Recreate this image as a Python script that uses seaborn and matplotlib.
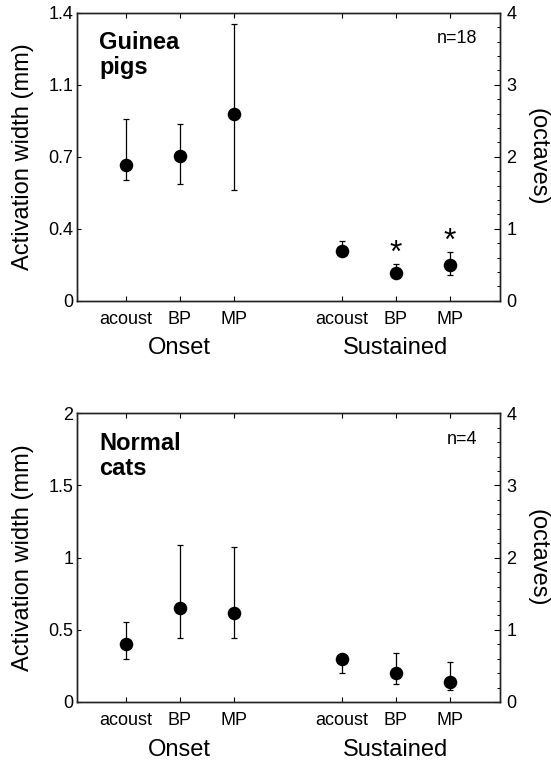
import matplotlib
matplotlib.use("Agg")
import matplotlib.pyplot as plt
import matplotlib.transforms as mtransforms
from matplotlib.ticker import MultipleLocator, FixedLocator, FixedFormatter
import numpy as np
import pandas as pd
import seaborn as sns

# ---- data -------------------------------------------------------------
conditions = ["acoust", "BP", "MP", "acoust", "BP", "MP"]
phases = ["Onset", "Onset", "Onset", "Sustained", "Sustained", "Sustained"]

# Guinea pigs (n=18): activation width in mm, with lower / upper error limits
gp_width = [0.661, 0.702, 0.908, 0.244, 0.135, 0.175]
gp_lower = [0.588, 0.568, 0.539, 0.215, 0.110, 0.123]
gp_upper = [0.885, 0.861, 1.345, 0.292, 0.179, 0.237]
gp_signif = [False, False, False, False, True, True]
gp_ytick_labels = ["0", "0.4", "0.7", "1.1", "1.4"]
gp_ymax = 1.4

# Normal cats (n=4)
cat_width = [0.400, 0.649, 0.619, 0.300, 0.199, 0.141]
cat_lower = [0.300, 0.446, 0.441, 0.199, 0.125, 0.083]
cat_upper = [0.552, 1.088, 1.072, 0.330, 0.342, 0.279]
cat_signif = [False, False, False, False, False, False]
cat_ytick_labels = ["0", "0.5", "1", "1.5", "2"]
cat_ymax = 2.0

octave_max = 4

# ---- style ------------------------------------------------------------
sns.set_style("ticks")
plt.rcParams["font.family"] = ["Liberation Sans", "DejaVu Sans"]
plt.rcParams["axes.linewidth"] = 1.0
plt.rcParams["axes.edgecolor"] = "#222222"
plt.rcParams["text.color"] = "black"
plt.rcParams["axes.labelcolor"] = "black"
plt.rcParams["xtick.color"] = "black"
plt.rcParams["ytick.color"] = "black"

W, H = 551, 765
fig = plt.figure(figsize=(W / 100, H / 100), dpi=100)


def px_axes(x0, y0, x1, y1):
    return fig.add_axes([x0 / W, 1 - y1 / H, (x1 - x0) / W, (y1 - y0) / H])


def draw_panel(ax, title, n, width, lower, upper, signif, ymax, ytick_labels):
    df = pd.DataFrame({
        "condition": conditions,
        "phase": phases,
        "width": width,
        "lower": lower,
        "upper": upper,
        "signif": signif,
    })
    # conditions sit at slots 1-3 (onset) and 5-7 (sustained)
    phase_idx = pd.factorize(df["phase"])[0]
    slot = df.groupby("phase").cumcount().to_numpy()
    df["x"] = phase_idx * 4 + slot + 1

    ax.errorbar(df["x"], df["width"],
                yerr=[df["width"] - df["lower"], df["upper"] - df["width"]],
                fmt="none", ecolor="black", elinewidth=0.9,
                capsize=2.2, capthick=0.9, zorder=2)
    sns.scatterplot(data=df, x="x", y="width", color="black", s=95,
                    linewidth=0, ax=ax, zorder=3, legend=False)

    ax.set_xlim(0.1, 7.93)
    ax.set_ylim(0, ymax)
    ax.yaxis.set_major_locator(FixedLocator(np.linspace(0, ymax, len(ytick_labels))))
    ax.yaxis.set_major_formatter(FixedFormatter(ytick_labels))
    ax.set_xticks(df["x"])
    ax.set_xticklabels(df["condition"])
    ax.tick_params(axis="x", direction="in", top=True, bottom=True,
                   length=3.5, width=0.8, pad=7.5, labelsize=13)
    ax.tick_params(axis="y", direction="in", left=True, right=False,
                   length=3, width=0.8, pad=3, labelsize=13)
    ax.set_xlabel("")
    ax.set_ylabel("Activation width (mm)", fontsize=17, ha="center", va="center")
    ax.yaxis.set_label_coords(-0.128, 0.5)

    # group labels under the condition names
    trans = mtransforms.blended_transform_factory(ax.transData, ax.transAxes)
    for phase, xs in df.groupby("phase", sort=False)["x"]:
        ax.text(xs.mean(), -0.165, phase, transform=trans, ha="center",
                va="center", fontsize=17)

    # significance markers above the error bars
    for _, row in df[df["signif"]].iterrows():
        ax.annotate("*", (row["x"], row["upper"]), xytext=(0, 1.5),
                    textcoords="offset points", ha="center", va="baseline",
                    fontsize=23)

    ax.text(0.052, 0.787, title, transform=ax.transAxes, ha="left",
            va="baseline", fontsize=17, fontweight="bold", linespacing=1.1)
    ax.text(0.946, 0.894, f"n={n}", transform=ax.transAxes, ha="right",
            va="baseline", fontsize=13)

    # octave scale on the right
    ax2 = ax.twinx()
    ax2.set_ylim(0, octave_max)
    ax2.yaxis.set_major_locator(MultipleLocator(1))
    ax2.yaxis.set_minor_locator(MultipleLocator(0.2))
    ax2.tick_params(axis="y", which="major", direction="in", left=False,
                    right=True, length=4, width=0.8, pad=4.5, labelsize=13)
    ax2.tick_params(axis="y", which="minor", direction="in", left=False,
                    right=True, length=2.2, width=0.7)
    ax2.set_ylabel("(octaves)", rotation=270, fontsize=17, ha="center", va="center")
    ax2.yaxis.set_label_coords(1.089, 0.5)
    for a in (ax, ax2):
        for s in a.spines.values():
            s.set_visible(True)


ax_top = px_axes(77.3, 12.7, 500, 300.7)
draw_panel(ax_top, "Guinea\npigs", 18, gp_width, gp_lower, gp_upper,
           gp_signif, gp_ymax, gp_ytick_labels)

ax_bot = px_axes(77.3, 413.3, 500, 702)
draw_panel(ax_bot, "Normal\ncats", 4, cat_width, cat_lower, cat_upper,
           cat_signif, cat_ymax, cat_ytick_labels)

fig.savefig("out.png", dpi=100, facecolor="white")
